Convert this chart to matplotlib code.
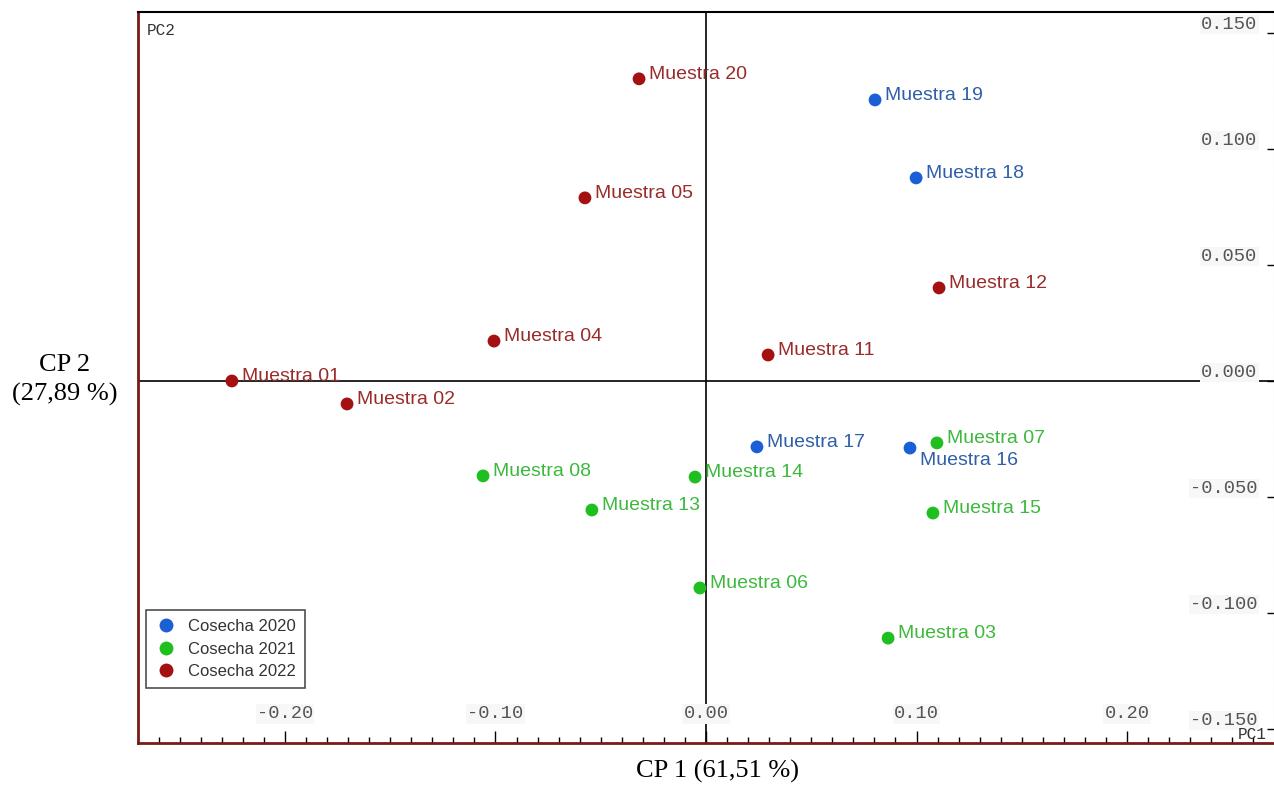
import matplotlib.pyplot as plt
from matplotlib.ticker import MultipleLocator, FixedLocator
from matplotlib.lines import Line2D

# PCA scores per harvest year
muestras_2020 = ["Muestra 16", "Muestra 17", "Muestra 18", "Muestra 19"]
pc1_2020 = [0.0969, 0.0242, 0.0998, 0.0803]
pc2_2020 = [-0.0289, -0.0284, 0.0875, 0.1211]

muestras_2021 = ["Muestra 03", "Muestra 06", "Muestra 07", "Muestra 08",
                 "Muestra 13", "Muestra 14", "Muestra 15"]
pc1_2021 = [0.0865, -0.0029, 0.1097, -0.1059, -0.0542, -0.0052, 0.1078]
pc2_2021 = [-0.1108, -0.0892, -0.0267, -0.0409, -0.0556, -0.0414, -0.0569]

muestras_2022 = ["Muestra 01", "Muestra 02", "Muestra 04", "Muestra 05",
                 "Muestra 11", "Muestra 12", "Muestra 20"]
pc1_2022 = [-0.2252, -0.1705, -0.1007, -0.0575, 0.0295, 0.1107, -0.0318]
pc2_2022 = [0.0000, -0.0099, 0.0172, 0.0789, 0.0112, 0.0401, 0.1302]

grupos = ["Cosecha 2020", "Cosecha 2021", "Cosecha 2022"]
x_ticks = [-0.20, -0.10, 0.00, 0.10, 0.20]
y_ticks = [-0.150, -0.100, -0.050, 0.000, 0.050, 0.100, 0.150]

marker_colors = ["#1a5fd6", "#1fbf1f", "#a51010"]
text_colors = ["#2f5fa8", "#3db83d", "#9a2b2b"]

fig = plt.figure(figsize=(12.74, 7.85), dpi=100)
ax = fig.add_axes([138 / 1274, 1 - 743 / 785, 1136 / 1274, 731 / 785])

ax.axhline(0, color="black", lw=1.2, zorder=1)
ax.axvline(0, color="black", lw=1.2, zorder=1)

series = [(muestras_2020, pc1_2020, pc2_2020),
          (muestras_2021, pc1_2021, pc2_2021),
          (muestras_2022, pc1_2022, pc2_2022)]

for (names, xs, ys), mc, tc in zip(series, marker_colors, text_colors):
    ax.scatter(xs, ys, s=85, color=mc, zorder=3, edgecolors="none")
    for name, x, y in zip(names, xs, ys):
        dx, dy = 7, 3
        if name == "Muestra 16":
            dx, dy = 7, -9
        ax.annotate(name, (x, y), xytext=(dx, dy), textcoords="offset points",
                    ha="left", va="center", fontsize=14, color=tc,
                    family="Liberation Sans", zorder=4)

ax.set_xlim(-0.2698, 0.2698)
ax.set_ylim(-0.156, 0.159)

# bottom axis: major ticks every 0.1, minor every 0.01, labels inside
ax.xaxis.set_major_locator(FixedLocator(x_ticks))
ax.xaxis.set_minor_locator(MultipleLocator(0.01))
ax.set_xticklabels([f"{v:.2f}" for v in x_ticks])
ax.tick_params(axis="x", which="major", direction="in", length=9, width=1,
               pad=-27, labelsize=13.5, labelcolor="#555555")
ax.tick_params(axis="x", which="minor", direction="in", length=4, width=1)

# right axis labels drawn inside the frame
ax.yaxis.tick_right()
ax.yaxis.set_major_locator(FixedLocator(y_ticks))
ax.set_yticklabels([f"{v:.3f}" for v in y_ticks])
ax.tick_params(axis="y", which="major", direction="in", length=5, width=1,
               pad=-12, labelsize=13.5, labelcolor="#555555")
for lbl in ax.get_yticklabels():
    lbl.set_ha("right")
    lbl.set_va("bottom")
for lbl in ax.get_xticklabels() + ax.get_yticklabels():
    lbl.set_family("Liberation Mono")
    lbl.set_bbox(dict(facecolor="#f7f7f7", edgecolor="none", pad=1))

for side in ("left", "bottom"):
    ax.spines[side].set_color("#7a1a1a")
    ax.spines[side].set_linewidth(2)
ax.spines["top"].set_color("black")
ax.spines["top"].set_linewidth(1.5)
ax.spines["right"].set_color("#bbbbbb")
ax.spines["right"].set_linestyle(":")

ax.text(0.008, 0.975, "PC2", transform=ax.transAxes, ha="left", va="center",
        family="Liberation Mono", fontsize=11.5, color="#333333")
ax.text(0.968, 0.012, "PC1", transform=ax.transAxes, ha="left", va="center",
        family="Liberation Mono", fontsize=11.5, color="#333333", clip_on=False)

handles = [Line2D([], [], marker="o", ls="none", markersize=10,
                  markerfacecolor=c, markeredgecolor="none") for c in marker_colors]
leg = ax.legend(handles, grupos, loc="lower left", bbox_to_anchor=(0.007, 0.075),
                borderaxespad=0, frameon=True, fancybox=False, edgecolor="#222222",
                prop={"family": "Liberation Sans", "size": 12},
                handletextpad=0.7, labelspacing=0.45, borderpad=0.55,
                handlelength=1.3)
leg.get_frame().set_linewidth(1.2)
for t in leg.get_texts():
    t.set_color("#333333")

fig.text(718 / 1274, 1 - 771 / 785, "CP 1 (61,51 %)", ha="center", va="center",
         family="Liberation Serif", fontsize=19)
fig.text(65 / 1274, 1 - 380 / 785, "CP 2\n(27,89 %)", ha="center", va="center",
         family="Liberation Serif", fontsize=19, linespacing=1.35)

fig.savefig("out.png", dpi=100)
